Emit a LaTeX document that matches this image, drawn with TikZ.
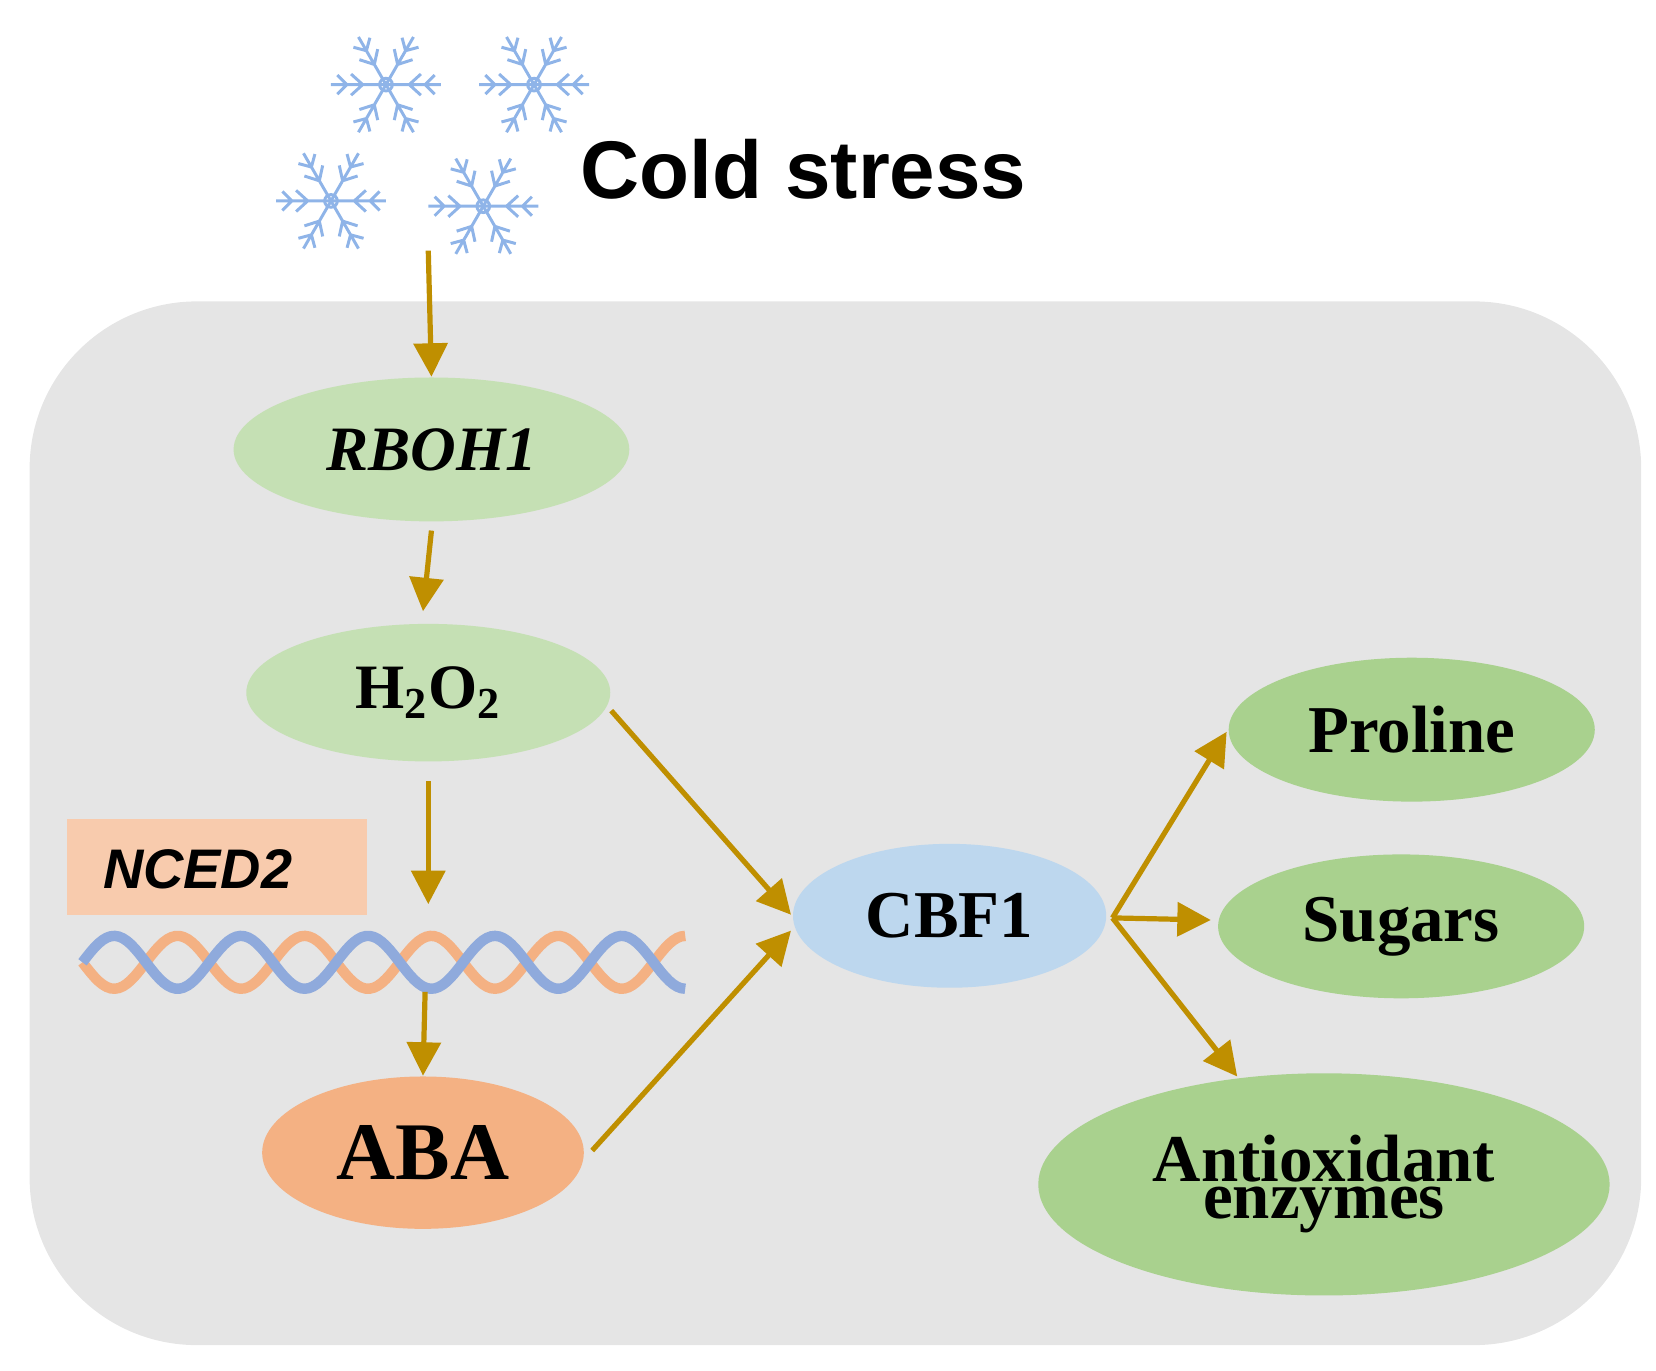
\documentclass[tikz,border=0pt]{standalone}
\usepackage{fontspec}
\setmainfont{Liberation Serif}
\newfontfamily\sans{Liberation Sans}
\usetikzlibrary{shapes.geometric,arrows.meta}
\definecolor{gold}{HTML}{BF8F00}
\definecolor{lgreen}{HTML}{C5E0B4}
\definecolor{mgreen}{HTML}{A9D18E}
\definecolor{lblue}{HTML}{BDD7EE}
\definecolor{lorange}{HTML}{F4B183}
\definecolor{peach}{HTML}{F8CBAD}
\definecolor{dnablue}{HTML}{8FAADC}
\definecolor{flake}{HTML}{8FB4E8}
\tikzset{
  el/.style={ellipse,draw=none,inner sep=0pt,font=\bfseries},
  ar/.style={draw=gold,line width=1.4pt,-{Triangle[length=9pt,width=9pt]}},
  fl/.style={flake,line width=0.8pt}
}
\begin{document}
\begin{tikzpicture}[x=0.01cm,y=-0.01cm]
\useasboundingbox (0,0) rectangle (1566,1296);
\fill[gray!20,rounded corners=45pt] (28,285) rectangle (1552,1272);
\foreach \px/\py in {365/80,505/80,313/190,457/195}{
  \foreach \a in {0,60,...,300}{
    \draw[fl,shift={(\px,\py)},rotate=\a] (0,0)--(52,0) (22,0)--(33,10) (22,0)--(33,-10) (37,0)--(46,9) (37,0)--(46,-9);
  }
  \draw[fl] (\px,\py) circle (6);
}
\node[font=\sans\bfseries] (cold) at (760,160) {\fontsize{22}{26}\selectfont Cold stress};
\coordinate (top) at (405,237);
\node[el,fill=lgreen,minimum width=3.74cm,minimum height=1.36cm] (rboh) at (408,425) {\fontsize{17}{20}\selectfont\itshape RBOH1};
\node[el,fill=lgreen,minimum width=3.44cm,minimum height=1.30cm] (h2o2) at (405,655) {\fontsize{17}{20}\selectfont H\textsubscript{2}O\textsubscript{2}};
\node[fill=peach,minimum width=2.84cm,minimum height=0.91cm,inner sep=0pt] (nced) at (205,820) {};
\node[font=\sans\bfseries\itshape,anchor=west] (ncedt) at (85,822) {\fontsize{15}{18}\selectfont NCED2};
\draw[lorange,line width=2.8pt] plot[domain=78:648,samples=150] (\x,{910+25*sin(3*(\x-78))});
\draw[dnablue,line width=2.8pt] plot[domain=78:648,samples=150] (\x,{910-25*sin(3*(\x-78))});
\coordinate (dna) at (402,938);
\node[el,fill=lorange,minimum width=3.04cm,minimum height=1.44cm] (aba) at (400,1090) {\fontsize{22}{26}\selectfont ABA};
\node[el,fill=lblue,minimum width=2.96cm,minimum height=1.36cm] (cbf) at (898,866) {\fontsize{18}{22}\selectfont CBF1};
\node[el,fill=mgreen,minimum width=3.46cm,minimum height=1.36cm] (pro) at (1335,690) {\fontsize{18}{22}\selectfont Proline};
\node[el,fill=mgreen,minimum width=3.46cm,minimum height=1.36cm] (sug) at (1325,876) {\fontsize{18}{22}\selectfont Sugars};
\node[el,fill=mgreen,minimum width=5.40cm,minimum height=2.10cm,align=center] (anti) at (1252,1120) {\fontsize{18}{22}\selectfont Antioxidant\\[-2pt]\fontsize{18}{22}\selectfont enzymes};
\draw[ar] (top) -- (rboh.north);
\draw[ar] (rboh.south) ++(0,8) -- (400,578);
\draw[ar] (h2o2.south) ++(0,18) -- (405,855);
\draw[ar] (dna) -- (aba.north);
\draw[ar] (578,672) -- (748,865);
\draw[ar] (560,1088) -- (748,880);
\coordinate (fan) at (1052,868);
\draw[ar] (fan) -- (1160,692);
\draw[ar] (fan) -- (1145,870);
\draw[ar] (fan) -- (1170,1018);
\end{tikzpicture}
\end{document}
